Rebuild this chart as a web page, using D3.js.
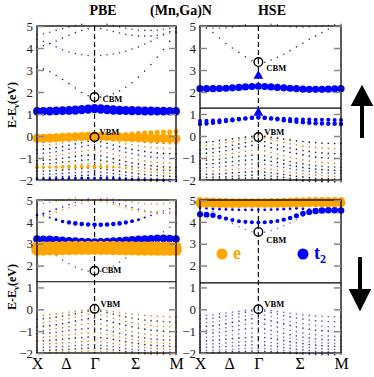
<!DOCTYPE html>
<html>
<head>
<meta charset="utf-8">
<script src="https://cdn.jsdelivr.net/npm/d3@7"></script>
<style>
  body { margin: 0; background: #fff; }
  svg { display: block; font-family: 'Liberation Serif', 'DejaVu Serif', serif; }
  svg text { font-family: 'Liberation Serif', 'DejaVu Serif', serif !important; }
</style>
</head>
<body>
<svg id="chart" width="374" height="377"></svg>
<script>
'use strict';

//k-path X - Delta - Gamma - Sigma - M, as fraction of the path length.
const kpts = [0, 0.046, 0.092, 0.138, 0.184, 0.230, 0.276, 0.322, 0.368, 0.414,
  0.459, 0.504, 0.549, 0.594, 0.639, 0.684, 0.730, 0.775, 0.820, 0.865, 0.910, 0.955, 1.0];
const kLabels = ['X', 'Δ', 'Γ', 'Σ', 'M'];
const kLabelPos = [0, 0.207, 0.414, 0.707, 1];
const yTicks = [-2, -1, 0, 1, 2, 3, 4, 5];
const titles = ['PBE', '(Mn,Ga)N', 'HSE'];

//Host valence bands (small weights), same set used in every panel.
const valence = [
  [-0.30,-0.28,-0.25,-0.21,-0.17,-0.13,-0.09,-0.05,-0.02,0.00,-0.02,-0.06,-0.10,-0.14,-0.18,-0.22,-0.25,-0.28,-0.30,-0.32,-0.33,-0.34,-0.35],
  [-0.45,-0.43,-0.40,-0.36,-0.31,-0.26,-0.20,-0.14,-0.08,-0.04,-0.08,-0.15,-0.22,-0.29,-0.35,-0.40,-0.45,-0.49,-0.52,-0.54,-0.56,-0.57,-0.58],
  [-0.62,-0.60,-0.57,-0.53,-0.48,-0.42,-0.36,-0.30,-0.24,-0.20,-0.26,-0.33,-0.41,-0.48,-0.55,-0.61,-0.66,-0.70,-0.74,-0.77,-0.79,-0.80,-0.81],
  [-0.80,-0.78,-0.75,-0.71,-0.66,-0.60,-0.54,-0.48,-0.43,-0.40,-0.46,-0.53,-0.60,-0.67,-0.74,-0.80,-0.86,-0.91,-0.95,-0.98,-1.00,-1.02,-1.03],
  [-0.98,-0.96,-0.93,-0.89,-0.84,-0.79,-0.74,-0.69,-0.65,-0.63,-0.68,-0.75,-0.82,-0.89,-0.96,-1.02,-1.08,-1.13,-1.17,-1.20,-1.22,-1.24,-1.25],
  [-1.12,-1.10,-1.08,-1.05,-1.01,-0.97,-0.93,-0.90,-0.87,-0.86,-0.90,-0.96,-1.03,-1.10,-1.16,-1.22,-1.27,-1.31,-1.35,-1.38,-1.40,-1.41,-1.42],
  [-1.28,-1.27,-1.25,-1.22,-1.19,-1.16,-1.13,-1.10,-1.08,-1.07,-1.10,-1.15,-1.21,-1.27,-1.33,-1.38,-1.43,-1.47,-1.50,-1.53,-1.55,-1.56,-1.57],
  [-1.45,-1.44,-1.42,-1.40,-1.37,-1.34,-1.31,-1.29,-1.27,-1.26,-1.29,-1.33,-1.38,-1.43,-1.48,-1.53,-1.57,-1.61,-1.64,-1.66,-1.68,-1.69,-1.70],
  [-1.60,-1.59,-1.58,-1.56,-1.54,-1.52,-1.50,-1.48,-1.46,-1.45,-1.48,-1.52,-1.56,-1.60,-1.64,-1.68,-1.72,-1.75,-1.78,-1.80,-1.82,-1.83,-1.84],
  [-1.75,-1.74,-1.73,-1.72,-1.70,-1.68,-1.66,-1.64,-1.62,-1.61,-1.64,-1.67,-1.71,-1.75,-1.79,-1.83,-1.86,-1.89,-1.92,-1.94,-1.95,-1.96,-1.97],
  [-1.88,-1.88,-1.87,-1.86,-1.85,-1.83,-1.81,-1.79,-1.78,-1.77,-1.79,-1.82,-1.85,-1.88,-1.92,-1.95,-1.98,-2.00,-2.02,-2.04,-2.05,-2.06,-2.07],
  [-1.98,-1.98,-1.97,-1.96,-1.95,-1.94,-1.93,-1.92,-1.91,-1.90,-1.92,-1.94,-1.96,-1.98,-2.00,-2.02,-2.04,-2.05,-2.06,-2.07,-2.08,-2.08,-2.09]
];

//PBE, spin up.
const pbeUpT2 = [
  [1.15,1.15,1.16,1.17,1.18,1.20,1.22,1.24,1.26,1.28,1.27,1.25,1.23,1.21,1.20,1.19,1.18,1.17,1.17,1.16,1.16,1.15,1.15],
  [1.10,1.10,1.10,1.11,1.12,1.13,1.14,1.16,1.18,1.20,1.18,1.16,1.14,1.13,1.12,1.11,1.11,1.10,1.10,1.10,1.10,1.10,1.10],
  [-1.96,-1.95,-1.95,-1.94,-1.94,-1.93,-1.93,-1.92,-1.92,-1.92,-1.92,-1.93,-1.93,-1.94,-1.95,-1.96,-1.97,-1.98,-1.99,-2.00,-2.01,-2.02,-2.03]
];
const pbeUpT2W = [0.5, 0.5, 0.14];
const pbeUpE = [
  [-0.10,-0.10,-0.09,-0.08,-0.06,-0.05,-0.03,-0.02,-0.01,0.00,-0.01,-0.02,-0.04,-0.05,-0.06,-0.07,-0.08,-0.09,-0.10,-0.10,-0.11,-0.11,-0.12],
  [-0.04,-0.04,-0.03,-0.02,-0.01,0.00,0.01,0.01,0.00,0.00,0.00,0.01,0.03,0.05,0.07,0.09,0.11,0.13,0.15,0.17,0.18,0.19,0.20],
  [-0.12,-0.12,-0.11,-0.10,-0.09,-0.08,-0.07,-0.06,-0.05,-0.05,-0.06,-0.07,-0.09,-0.11,-0.13,-0.15,-0.17,-0.19,-0.21,-0.23,-0.24,-0.25,-0.26],
  [-1.42,-1.42,-1.41,-1.41,-1.40,-1.40,-1.40,-1.40,-1.40,-1.40,-1.40,-1.41,-1.42,-1.43,-1.44,-1.45,-1.46,-1.47,-1.48,-1.49,-1.50,-1.50,-1.51]
];
const pbeUpEW = [0.62, 0.32, 0.3,
  [0.22,0.2,0.18,0.2,0.22,0.2,0.18,0.2,0.22,0.24,0.2,0.16,0.14,0.1,0.08,0.06,0.06,0.05,0.05,0.05,0.05,0.05,0.05]];
const pbeUpCond = [
  [3.15,3.05,2.92,2.75,2.57,2.38,2.18,1.98,1.83,1.75,1.77,1.83,1.92,2.05,2.22,2.42,2.67,2.95,3.25,3.58,3.93,4.30,4.70],
  [4.40,4.30,4.20,4.05,3.92,3.82,3.75,3.70,3.66,3.65,3.66,3.69,3.73,3.78,3.85,3.95,4.05,4.18,4.30,4.45,4.60,4.75,4.90],
  [4.05,4.10,4.20,4.32,4.45,4.58,4.70,4.80,4.88,4.92,4.88,4.82,4.75,4.68,4.62,4.58,4.55,4.54,4.55,4.58,4.62,4.68,4.75],
  [4.60,4.65,4.72,4.80,4.88,4.95,5.02,5.08,5.10,5.10,5.10,5.08,5.02,4.96,4.90,4.85,4.82,4.80,4.80,4.82,4.85,4.90,4.95]
];

//HSE, spin up.
const hseUpT2 = [
  [2.15,2.15,2.15,2.16,2.17,2.19,2.21,2.23,2.25,2.26,2.25,2.23,2.21,2.19,2.17,2.15,2.13,2.12,2.12,2.12,2.13,2.14,2.15],
  [0.55,0.57,0.60,0.64,0.68,0.72,0.76,0.80,0.83,0.85,0.83,0.80,0.76,0.72,0.68,0.65,0.62,0.60,0.58,0.57,0.56,0.56,0.55],
  [0.68,0.69,0.70,0.72,0.74,0.76,0.78,0.80,0.82,0.83,0.82,0.80,0.79,0.78,0.77,0.76,0.75,0.75,0.74,0.74,0.74,0.73,0.73]
];
const hseUpT2W = [0.48, 0.27, 0.24];
const hseUpE = [];
const hseUpEW = [];
const hseUpTri = [2.78, 1.10];
const hseUpCond = [
  [5.10,4.90,4.70,4.45,4.20,4.00,3.80,3.60,3.42,3.30,3.35,3.45,3.58,3.72,3.88,4.05,4.22,4.40,4.55,4.70,4.85,5.00,5.15],
  [4.95,4.92,4.90,4.90,4.92,4.95,5.00,5.05,5.10,5.10,5.10,5.08,5.05,5.00,4.97,4.95,4.95,4.96,4.98,5.00,5.02,5.05,5.08]
];

//PBE, spin down.
const pbeDnT2 = [
  [3.22,3.21,3.20,3.18,3.16,3.14,3.12,3.10,3.09,3.08,3.09,3.10,3.12,3.14,3.16,3.18,3.20,3.22,3.23,3.25,3.25,3.24,3.22],
  [3.15,3.15,3.14,3.13,3.12,3.10,3.08,3.06,3.05,3.05,3.05,3.06,3.08,3.10,3.12,3.14,3.16,3.18,3.20,3.22,3.22,3.20,3.18],
  [4.35,4.30,4.20,4.10,4.02,3.97,3.93,3.90,3.88,3.87,3.87,3.88,3.90,3.93,3.97,4.03,4.10,4.20,4.30,4.40,4.50,4.60,4.70],
  [4.30,4.38,4.48,4.58,4.68,4.78,4.88,4.98,5.05,5.10,5.05,4.98,4.90,4.82,4.74,4.66,4.58,4.50,4.45,4.42,4.40,4.40,4.40]
];
const pbeDnT2W = [0.5, 0.42,
  [0.04,0.05,0.08,0.14,0.2,0.26,0.28,0.28,0.28,0.28,0.28,0.28,0.28,0.28,0.26,0.22,0.16,0.1,0.06,0.05,0.04,0.04,0.04],
  [0.12,0.1,0.08,0.06,0.05,0.05,0.04,0.04,0.04,0.04,0.04,0.04,0.04,0.04,0.04,0.04,0.04,0.04,0.04,0.04,0.04,0.04,0.04]];
const pbeDnE = [
  [2.72,2.72,2.73,2.73,2.74,2.74,2.75,2.75,2.75,2.75,2.75,2.75,2.74,2.74,2.73,2.73,2.72,2.72,2.72,2.71,2.71,2.71,2.71],
  [2.86,2.86,2.86,2.87,2.87,2.88,2.88,2.88,2.88,2.88,2.88,2.88,2.88,2.87,2.87,2.87,2.86,2.86,2.86,2.86,2.85,2.85,2.85],
  [4.20,4.25,4.35,4.45,4.55,4.65,4.75,4.85,4.95,5.00,4.95,4.88,4.80,4.72,4.64,4.56,4.50,4.46,4.44,4.44,4.45,4.46,4.48]
];
const pbeDnEW = [0.82, 0.78, 0.07];
const pbeDnCond = [
  [3.00,2.85,2.65,2.45,2.25,2.08,1.93,1.82,1.74,1.70,1.74,1.84,1.98,2.15,2.35,2.55,2.75,2.95,3.15,3.35,3.55,3.75,3.95],
  [4.80,4.85,4.90,4.95,5.00,5.05,5.08,5.10,5.10,5.10,5.10,5.08,5.05,5.00,4.95,4.90,4.86,4.83,4.82,4.82,4.84,4.86,4.88]
];

//HSE, spin down.
const hseDnT2 = [
  [4.35,4.33,4.30,4.22,4.15,4.08,4.03,4.00,3.98,3.97,3.98,4.00,4.04,4.10,4.18,4.28,4.38,4.45,4.50,4.52,4.53,4.53,4.52],
  [4.65,4.62,4.60,4.58,4.57,4.56,4.55,4.55,4.55,4.55,4.55,4.56,4.57,4.58,4.60,4.62,4.60,4.56,4.53,4.50,4.48,4.47,4.46]
];
const hseDnT2W = [
  [0.4,0.38,0.34,0.3,0.26,0.24,0.24,0.24,0.24,0.24,0.24,0.24,0.24,0.26,0.28,0.32,0.36,0.4,0.42,0.44,0.44,0.44,0.44],
  0.15];
const hseDnE = [
  [4.86,4.85,4.85,4.84,4.84,4.84,4.84,4.85,4.85,4.85,4.85,4.85,4.85,4.85,4.86,4.86,4.86,4.87,4.87,4.87,4.87,4.87,4.87],
  [4.97,4.96,4.95,4.94,4.93,4.92,4.92,4.92,4.92,4.92,4.92,4.93,4.93,4.94,4.95,4.96,4.96,4.97,4.97,4.97,4.97,4.97,4.97]
];
const hseDnEW = [0.62, 0.48];
const hseDnCond = [
  [4.90,4.70,4.50,4.30,4.10,3.92,3.78,3.65,3.55,3.50,3.53,3.60,3.70,3.82,3.95,4.10,4.25,4.40,4.55,4.70,4.85,5.00,5.10]
];

//Band edges and the horizontal reference line, one value per panel (PBE up, HSE up, PBE down, HSE down).
const cbm = [1.77, 3.36, 1.76, 3.54];
const vbm = [-0.05, -0.05, 0.02, 0.00];
const refLine = [1.25, 1.27, 1.26, 1.21];

const serif = "'Liberation Serif', 'DejaVu Serif', serif";
const svg = d3.select('#chart').attr('font-family', serif);
const orange = '#ffa500';
const blue = '#0000ff';
const rScale = d3.scaleLinear().domain([0, 1]).range([0.45, 7]);

const panels = [
  {x0: 37, x1: 176, y0: 26, y1: 180, t2: pbeUpT2, t2w: pbeUpT2W, e: pbeUpE, ew: pbeUpEW, cond: pbeUpCond,
    condColors: ['#222', '#3030d0', '#333', '#444'],
    valColors: ['#222', '#d8901a', '#222', '#4040c8', '#d8901a', '#222', '#333', '#d8901a', '#222', '#4040c8', '#222', '#d8901a'],
    cbmText: [8, 2], vbmText: [5, -5]},
  {x0: 200, x1: 341, y0: 26, y1: 180, t2: hseUpT2, t2w: hseUpT2W, e: hseUpE, ew: hseUpEW, cond: hseUpCond,
    condColors: ['#333', '#555'], tri: hseUpTri,
    valColors: ['#222', '#d8901a', '#333', '#222', '#d8901a', '#444', '#222', '#6060c0', '#d8901a', '#222', '#333', '#222'],
    cbmText: [8, 6], vbmText: [6, -5]},
  {x0: 37, x1: 176, y0: 200, y1: 353, t2: pbeDnT2, t2w: pbeDnT2W, e: pbeDnE, ew: pbeDnEW, cond: pbeDnCond,
    condColors: ['#555', '#c89030'],
    valColors: ['#c89030', '#444', '#e09a20', '#333', '#c89030', '#555', '#e09a20', '#333', '#c89030', '#6060c0', '#444', '#e09a20'],
    cbmText: [7, -1], vbmText: [6, -5]},
  {x0: 200, x1: 341, y0: 200, y1: 353, t2: hseDnT2, t2w: hseDnT2W, e: hseDnE, ew: hseDnEW, cond: hseDnCond,
    condColors: ['#6a6ad8'],
    valColors: ['#6a6ad8', '#5050c8', '#8080e0', '#333399', '#6a6ad8', '#5050c8', '#8080e0', '#333399', '#6a6ad8', '#5050c8', '#8080e0', '#333399'],
    cbmText: [8, 8], vbmText: [6, -5]}
];

//Turn a list of band energies into points on the path, keeping only the visible window.
//A band weight is either one number or one number per k-point.
function bandPoints(bands, weights, colors, fallbackW) {
  let pts = [];
  bands.forEach((band, b) => {
    band.forEach((en, i) => {
      if (en < -2.08 || en > 5.08) return;
      let w = weights ? weights[b] : fallbackW;
      if (Array.isArray(w)) w = w[i];
      pts.push({k: kpts[i], en: en, w: w, c: colors[b % colors.length]});
    });
  });
  return pts;
}

panels.forEach((p, idx) => {
  const x = d3.scaleLinear().domain([0, 1]).range([p.x0, p.x1]);
  const y = d3.scaleLinear().domain([-2, 5]).range([p.y1, p.y0]);
  const g = svg.append('g');

  //Horizontal reference line and the dashed Gamma line.
  g.append('line')
    .attr('x1', p.x0).attr('x2', p.x1)
    .attr('y1', y(refLine[idx])).attr('y2', y(refLine[idx]))
    .attr('stroke', '#000').attr('stroke-width', 1.2);
  g.append('line')
    .attr('x1', x(kLabelPos[2])).attr('x2', x(kLabelPos[2]))
    .attr('y1', p.y0).attr('y2', p.y1)
    .attr('stroke', '#000').attr('stroke-width', 1.2)
    .attr('stroke-dasharray', '5,3');

  //Small dots: valence and conduction host bands.
  const small = bandPoints(valence, null, p.valColors, 0.06)
    .concat(bandPoints(p.cond, null, p.condColors, 0.05));
  g.selectAll('circle.small')
    .data(small)
    .enter()
    .append('circle')
    .attr('class', 'small')
    .attr('cx', (d) => x(d.k))
    .attr('cy', (d) => y(d.en))
    .attr('r', (d) => rScale(d.w))
    .attr('fill', (d) => d.c);

  //Projected Mn bands: e in orange, t2 in blue.
  const fat = bandPoints(p.e, p.ew, [orange], 0)
    .concat(bandPoints(p.t2, p.t2w, [blue], 0))
    .sort((a, b) => a.w - b.w);
  g.selectAll('circle.fat')
    .data(fat)
    .enter()
    .append('circle')
    .attr('class', 'fat')
    .attr('cx', (d) => x(d.k))
    .attr('cy', (d) => y(d.en))
    .attr('r', (d) => rScale(d.w))
    .attr('fill', (d) => d.c);

  //Triangles at Gamma (HSE spin up).
  if (p.tri) {
    g.selectAll('path.tri')
      .data(p.tri)
      .enter()
      .append('path')
      .attr('class', 'tri')
      .attr('transform', (d) => `translate(${x(kLabelPos[2])},${y(d) + 1})`)
      .attr('d', d3.symbol().type(d3.symbolTriangle).size(42))
      .attr('fill', blue);
  }

  //CBM / VBM markers.
  const edges = [{en: cbm[idx], label: 'CBM', off: p.cbmText}, {en: vbm[idx], label: 'VBM', off: p.vbmText}];
  g.selectAll('circle.edge')
    .data(edges)
    .enter()
    .append('circle')
    .attr('class', 'edge')
    .attr('cx', x(kLabelPos[2]))
    .attr('cy', (d) => y(d.en))
    .attr('r', 4.3)
    .attr('fill', 'none')
    .attr('stroke', '#000')
    .attr('stroke-width', 1.4);
  g.selectAll('text.edge')
    .data(edges)
    .enter()
    .append('text')
    .attr('class', 'edge')
    .attr('x', (d) => x(kLabelPos[2]) + d.off[0])
    .attr('y', (d) => y(d.en) + d.off[1] + 3)
    .attr('font-size', 8.5)
    .attr('font-weight', 'bold')
    .text((d) => d.label);

  //Frame.
  g.append('rect')
    .attr('x', p.x0).attr('y', p.y0)
    .attr('width', p.x1 - p.x0).attr('height', p.y1 - p.y0)
    .attr('fill', 'none').attr('stroke', '#000').attr('stroke-width', 1.3);

  //y axis: inward grey ticks on both sides, labels on the left.
  let yAxis = d3.axisLeft(y).tickValues(yTicks).tickSizeInner(-7).tickSizeOuter(0).tickPadding(4).tickFormat(d3.format('d'));
  let ga = g.append('g').attr('transform', `translate(${p.x0},0)`).call(yAxis);
  ga.attr('font-family', serif);
  ga.select('.domain').remove();
  ga.selectAll('line').attr('stroke', '#888').attr('stroke-width', 1.5);
  ga.selectAll('text').attr('font-size', 13).attr('fill', '#222');
  let yAxisR = d3.axisRight(y).tickValues(yTicks).tickSizeInner(-7).tickSizeOuter(0).tickFormat('');
  let gr = g.append('g').attr('transform', `translate(${p.x1},0)`).call(yAxisR);
  gr.select('.domain').remove();
  gr.selectAll('line').attr('stroke', '#888').attr('stroke-width', 1.5);

  //x axis labels on the bottom panels only.
  if (p.y0 > 100) {
    let xAxis = d3.axisBottom(x).tickValues(kLabelPos).tickSize(0).tickPadding(5)
      .tickFormat((d, i) => kLabels[i]);
    let gx = g.append('g').attr('transform', `translate(0,${p.y1})`).call(xAxis);
    gx.attr('font-family', serif);
    gx.select('.domain').remove();
    gx.selectAll('text').attr('font-size', 16).attr('fill', '#000');
  }
});

//Titles.
svg.selectAll('text.title')
  .data(titles)
  .enter()
  .append('text')
  .attr('class', 'title')
  .attr('x', (d, i) => [103, 181, 272][i])
  .attr('y', 15)
  .attr('text-anchor', 'middle')
  .attr('font-size', 14)
  .attr('font-weight', 'bold')
  .text((d) => d);

//y axis titles.
[105, 287].forEach((cy) => {
  let t = svg.append('text')
    .attr('transform', `translate(16,${cy}) rotate(-90)`)
    .attr('text-anchor', 'middle')
    .attr('font-size', 12)
    .attr('font-weight', 'bold');
  t.append('tspan').text('E-E');
  t.append('tspan').attr('dy', 3).attr('font-size', 8).text('v');
  t.append('tspan').attr('dy', -3).text('(eV)');
});

//Legend.
const legend = [{label: 'e', color: orange, x: 222}, {label: 't', sub: '2', color: blue, x: 303}];
legend.forEach((d) => {
  svg.append('circle').attr('cx', d.x).attr('cy', 254).attr('r', 5.5).attr('fill', d.color);
  let t = svg.append('text').attr('x', d.x + 11).attr('y', 259)
    .attr('font-size', 18).attr('font-weight', 'bold').attr('fill', d.color).text(d.label);
  if (d.sub) t.append('tspan').attr('dy', 4).attr('font-size', 12).text(d.sub);
});

//Spin arrows.
svg.append('path')
  .attr('d', 'M362,138 L362,100 M354,104 L362,89 L370,104 Z')
  .attr('stroke', '#000').attr('stroke-width', 4).attr('fill', '#000');
svg.append('path')
  .attr('d', 'M360,257 L360,294 M352,291 L360,307 L368,291 Z')
  .attr('stroke', '#000').attr('stroke-width', 4).attr('fill', '#000');
</script>
</body>
</html>
